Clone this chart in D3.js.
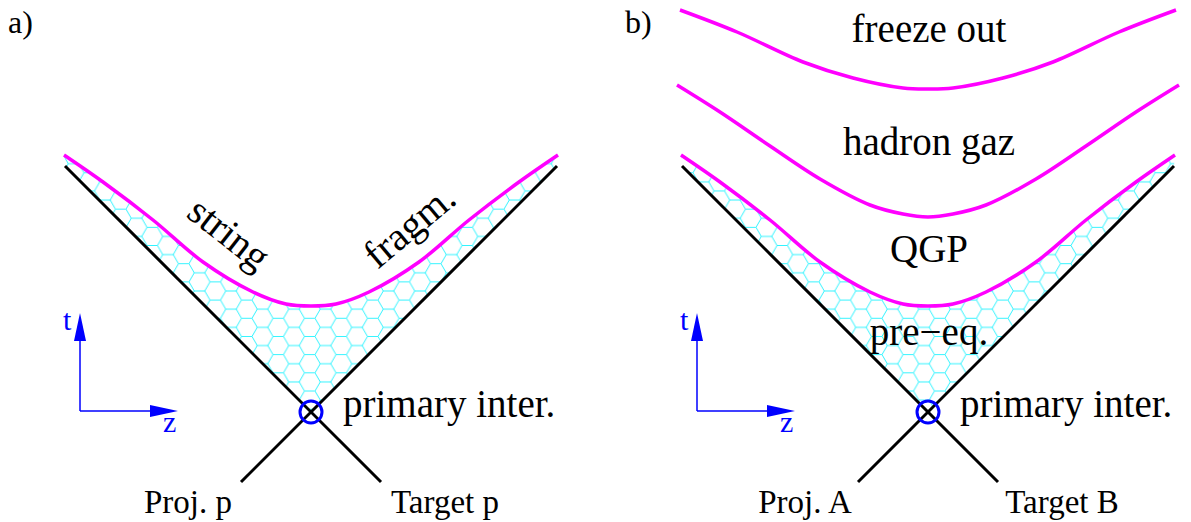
<!DOCTYPE html>
<html>
<head>
<meta charset="utf-8">
<script src="https://cdn.jsdelivr.net/npm/d3@7"></script>
<style>
  html, body { margin: 0; padding: 0; background: #fff; }
  svg { display: block; }
  text { font-family: "Liberation Serif", "Times New Roman", serif; fill: #000; }
</style>
</head>
<body>
<svg id="chart" width="1191" height="522"></svg>
<script>
// ---------- data (z = longitudinal position, t = time) ----------
const panelLabels = ["a)", "b)"];
const projLabels = ["Proj. p", "Proj. A"];
const targetLabels = ["Target p", "Target B"];
const vertexLabel = "primary inter.";

// light-cone lines: t = |z|
const coneZ = [-246, 0, 246];
const coneLowZ = [-70, 70]; // incoming beams below the vertex

// lowest magenta curve (string fragmentation / end of pre-equilibrium)
const lowZ = [-247, -208, -158, -108, -58, -25, 0, 25, 58, 108, 158, 208, 247];
const lowT = [257, 230, 192, 150, 120, 108, 106, 108, 120, 150, 192, 230, 257];
// hadronisation curve (panel b)
const midZ = [-251, -208, -158, -108, -58, -25, 0, 25, 58, 108, 158, 208, 251];
const midT = [327, 300, 266, 233, 207, 198, 195, 198, 207, 233, 266, 300, 327];
// freeze-out curve (panel b)
const topZ = [-248, -191, -125, -75, -25, 0, 25, 75, 125, 191, 248];
const topT = [402, 380, 350, 334, 324, 323, 324, 334, 350, 380, 402];

const regionLabels = ["freeze out", "hadron gaz", "QGP", "pre\u2212eq."];
const regionT = [370, 257, 150, 67];
const stringWords = ["string", "fragm."];

// ---------- drawing ----------
const svg = d3.select("#chart");
const MAG = "#ff00ff", BLUE = "#0000ff";

// hexagon pattern
const s = 10.5, h = Math.sqrt(3) * s;
const defs = svg.append("defs");
const pat = defs.append("pattern").attr("id", "hex")
  .attr("patternUnits", "userSpaceOnUse")
  .attr("width", 3 * s).attr("height", h);
pat.append("path")
  .attr("d", `M0,${h/2} L${s/2},0 L${1.5*s},0 L${2*s},${h/2} L${1.5*s},${h} L${s/2},${h} Z M${2*s},${h/2} L${3*s},${h/2}`)
  .attr("fill", "none").attr("stroke", "#00f0ff").attr("stroke-width", 0.8);

function drawPanel(i, cx) {
  const x = d3.scaleLinear().domain([-250, 250]).range([cx - 250, cx + 250]);
  const y = d3.scaleLinear().domain([0, 400]).range([412, 12]);
  const g = svg.append("g");
  const line = d3.line().x(d => x(d[0])).y(d => y(d[1]));
  const smooth = d3.line().x(d => x(d[0])).y(d => y(d[1])).curve(d3.curveCatmullRom.alpha(0.5));

  const low = lowZ.map((z, k) => [z, lowT[k]]);

  // hatched (hexagon) region between cone and lowest curve
  const clipId = "clip" + i;
  const conePts = coneZ.map(z => [z, Math.abs(z)]);
  const regionPath = line(conePts) + " " +
    smooth(low.slice().reverse()).replace(/^M/, "L") + " Z";
  defs.append("clipPath").attr("id", clipId).append("path").attr("d", regionPath);
  g.append("rect").attr("x", x(-260)).attr("y", y(280)).attr("width", x(260) - x(-260))
    .attr("height", y(-10) - y(280)).attr("fill", "url(#hex)").attr("clip-path", `url(#${clipId})`);

  // cone lines
  g.append("path").attr("d", line([[coneZ[0], Math.abs(coneZ[0])], [coneLowZ[1], coneLowZ[0]]]))
    .attr("stroke", "#000").attr("stroke-width", 3).attr("fill", "none");
  g.append("path").attr("d", line([[coneZ[2], Math.abs(coneZ[2])], [coneLowZ[0], coneLowZ[0]]]))
    .attr("stroke", "#000").attr("stroke-width", 3).attr("fill", "none");

  // curves
  g.append("path").attr("d", smooth(low)).attr("stroke", MAG).attr("stroke-width", 3.5).attr("fill", "none");
  if (i === 1) {
    g.append("path").attr("d", smooth(midZ.map((z, k) => [z, midT[k]])))
      .attr("stroke", MAG).attr("stroke-width", 3.5).attr("fill", "none");
    g.append("path").attr("d", smooth(topZ.map((z, k) => [z, topT[k]])))
      .attr("stroke", MAG).attr("stroke-width", 3.5).attr("fill", "none");
    regionLabels.forEach((lab, k) => {
      g.append("text").attr("x", x(0) + 1).attr("y", y(regionT[k]))
        .attr("text-anchor", "middle").attr("font-size", 39).text(lab);
    });
  } else {
    g.append("text").attr("transform", `translate(${x(-90)},${y(168)}) rotate(38)`)
      .attr("text-anchor", "middle").attr("font-size", 40).text(stringWords[0]);
    g.append("text").attr("transform", `translate(${x(107)},${y(176)}) rotate(-40)`)
      .attr("text-anchor", "middle").attr("font-size", 40).text(stringWords[1]);
  }

  // vertex circle
  g.append("circle").attr("cx", x(0)).attr("cy", y(0)).attr("r", 11)
    .attr("fill", "none").attr("stroke", BLUE).attr("stroke-width", 3);
  g.append("text").attr("x", x(0) + 32).attr("y", y(-5)).attr("font-size", 39).text(vertexLabel);

  // beam labels
  g.append("text").attr("x", x(-123)).attr("y", 513).attr("text-anchor", "middle")
    .attr("font-size", 33).text(projLabels[i]);
  g.append("text").attr("x", x(134)).attr("y", 513).attr("text-anchor", "middle")
    .attr("font-size", 33).text(targetLabels[i]);

  // panel label
  g.append("text").attr("x", i === 0 ? 8 : 625).attr("y", 33).attr("font-size", 32).text(panelLabels[i]);

  // t / z axes
  const ax = x(-231), ay = y(0) - 1;
  g.append("line").attr("x1", ax).attr("y1", ay).attr("x2", ax).attr("y2", ay - 75)
    .attr("stroke", BLUE).attr("stroke-width", 1.5);
  g.append("path").attr("d", `M${ax},${ay - 98} L${ax - 6},${ay - 70} L${ax + 6},${ay - 70} Z`).attr("fill", BLUE);
  g.append("line").attr("x1", ax).attr("y1", ay).attr("x2", ax + 75).attr("y2", ay)
    .attr("stroke", BLUE).attr("stroke-width", 1.5);
  g.append("path").attr("d", `M${ax + 98},${ay} L${ax + 70},${ay - 6} L${ax + 70},${ay + 6} Z`).attr("fill", BLUE);
  g.append("text").attr("x", ax - 17).attr("y", ay - 81).attr("font-size", 30).style("fill", BLUE).text("t");
  g.append("text").attr("x", ax + 83).attr("y", ay + 21).attr("font-size", 30).style("fill", BLUE).text("z");
}

drawPanel(0, 311);
drawPanel(1, 928);
</script>
</body>
</html>
